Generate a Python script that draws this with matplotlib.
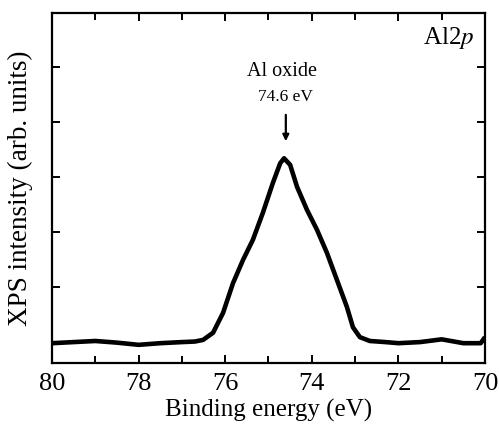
import matplotlib
matplotlib.use("Agg")
import matplotlib.pyplot as plt

# Binding energy (eV) and XPS intensity (arb. units)
energy = [80.0, 79.5, 79.0, 78.5, 78.0, 77.5, 77.0, 76.7, 76.51, 76.28, 76.05, 75.82,
          75.59, 75.36, 75.13, 74.90, 74.73, 74.64, 74.50, 74.34, 74.11, 73.88, 73.65,
          73.42, 73.19, 73.05, 72.89, 72.66, 72.3, 72.0, 71.5, 71.0, 70.5, 70.1, 70.0]
intensity = [0.98, 1.00, 1.02, 0.99, 0.95, 0.98, 1.00, 1.01, 1.04, 1.17, 1.53, 2.07,
             2.49, 2.86, 3.35, 3.89, 4.25, 4.34, 4.22, 3.82, 3.40, 3.04, 2.62,
             2.13, 1.64, 1.27, 1.09, 1.02, 1.00, 0.98, 1.00, 1.05, 0.98, 0.98, 1.09]

xticks_major = [80, 78, 76, 74, 72, 70]
xticks_minor = [79, 77, 75, 73, 71]
yticks = [1, 2, 3, 4, 5, 6]

plt.rcParams['font.family'] = ['Liberation Serif', 'DejaVu Serif']
plt.rcParams['mathtext.fontset'] = 'stix'

fig = plt.figure(figsize=(4.99, 4.30), dpi=100)
ax = fig.add_axes([52/499, 67/430, (485-52)/499, (363-13)/430])

ax.plot(energy, intensity, color='black', lw=3.3, solid_joinstyle='round', solid_capstyle='butt')

ax.set_xlim(80, 70)
ax.set_ylim(0.62, 6.98)
ax.set_xticks(xticks_major)
ax.set_xticks(xticks_minor, minor=True)
ax.set_yticks(yticks)
ax.set_yticklabels([])
ax.tick_params(axis='both', which='both', direction='in', top=True, right=True,
               width=1.4, color='black')
ax.tick_params(axis='x', which='major', length=6, labelsize=19, pad=7)
ax.tick_params(axis='x', which='minor', length=5)
ax.tick_params(axis='y', which='major', length=6)
for s in ax.spines.values():
    s.set_linewidth(1.6)

ax.set_xlabel('Binding energy (eV)', fontsize=18, labelpad=3)
ax.set_ylabel('XPS intensity (arb. units)', fontsize=19.5, labelpad=10)

ax.text(0.975, 0.965, r'Al2$\mathit{p}$', transform=ax.transAxes, ha='right', va='top', fontsize=18)
ax.text(74.68, 5.91, 'Al oxide', ha='center', va='center', fontsize=14.5)
ax.text(74.62, 5.45, '74.6 eV', ha='center', va='center', fontsize=12.5)
ax.annotate('', xy=(74.6, 4.6), xytext=(74.6, 5.18),
            arrowprops=dict(arrowstyle='-|>', color='black', lw=1.6, mutation_scale=9))

fig.savefig('out.png', dpi=100)
